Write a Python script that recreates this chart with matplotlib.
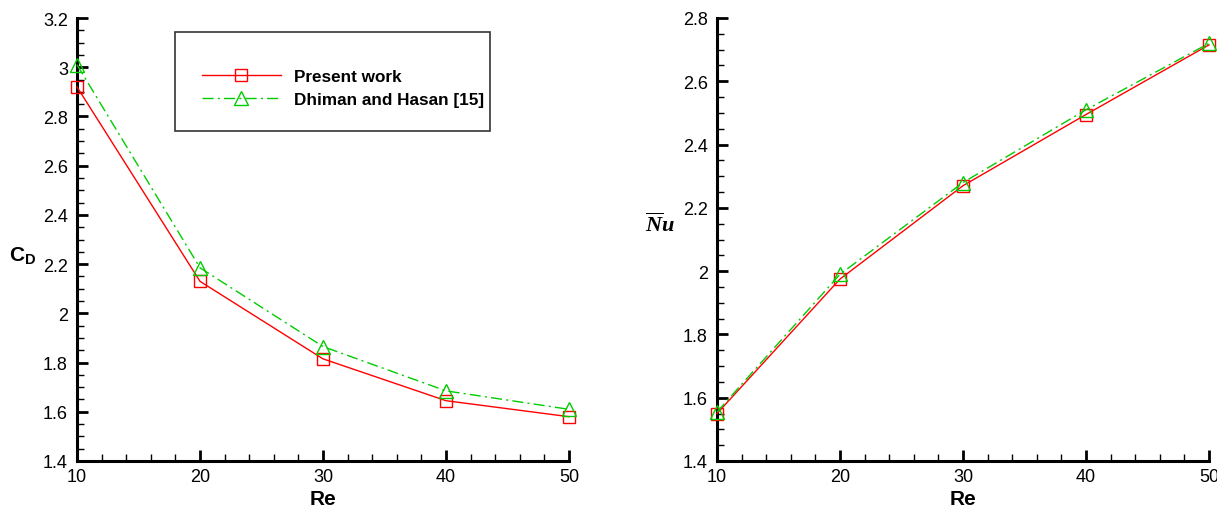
import matplotlib
matplotlib.use("Agg")
import matplotlib.pyplot as plt
from matplotlib.patches import Rectangle
from matplotlib.ticker import MultipleLocator, FuncFormatter
from matplotlib.lines import Line2D

plt.rcParams['font.family'] = ['Liberation Sans', 'DejaVu Sans']
plt.rcParams['mathtext.fontset'] = 'custom'
plt.rcParams['mathtext.bf'] = 'Liberation Sans:bold'
plt.rcParams['mathtext.rm'] = 'Liberation Sans'
plt.rcParams['mathtext.it'] = 'Liberation Serif:bold:italic'

re_values = [10, 20, 30, 40, 50]

cd_present = [2.92, 2.13, 1.815, 1.645, 1.58]
cd_dhiman = [3.01, 2.185, 1.865, 1.685, 1.61]

nu_present = [1.55, 1.975, 2.27, 2.495, 2.715]
nu_dhiman = [1.555, 1.99, 2.28, 2.51, 2.72]

label_present = "Present work"
label_dhiman = "Dhiman and Hasan [15]"

RED = '#ff0000'
GREEN = '#00cc00'
DASHDOT = (0, (8, 3, 1.5, 3))

W, H = 1217, 510
fig = plt.figure(figsize=(W / 100, H / 100), dpi=100)


def make_axes(px0, px1, py_top, py_bot):
    return fig.add_axes([px0 / W, 1 - py_bot / H, (px1 - px0) / W, (py_bot - py_top) / H])


def style_axes(ax, ylo, yhi):
    ax.set_xlim(10, 50)
    ax.set_ylim(ylo, yhi)
    for side in ('top', 'right'):
        ax.spines[side].set_visible(False)
    for side in ('left', 'bottom'):
        ax.spines[side].set_linewidth(2.2)
    ax.xaxis.set_major_locator(MultipleLocator(10))
    ax.xaxis.set_minor_locator(MultipleLocator(2))
    ax.yaxis.set_major_locator(MultipleLocator(0.2))
    ax.yaxis.set_minor_locator(MultipleLocator(0.05))
    ax.tick_params(which='major', direction='in', length=8, width=2, labelsize=13)
    ax.tick_params(which='minor', direction='in', length=5, width=1)
    ax.tick_params(axis='x', which='major', pad=5)
    ax.tick_params(axis='y', which='major', pad=6.5)
    fmt = FuncFormatter(lambda v, p: f"{v:g}")
    ax.xaxis.set_major_formatter(fmt)
    ax.yaxis.set_major_formatter(fmt)
    ax.set_xlabel("Re", fontsize=15, fontweight='bold', labelpad=3)


def draw_series(ax, present, dhiman):
    ax.plot(re_values, present, color=RED, lw=1.0, ls='-', marker='s',
            markersize=9, markerfacecolor='none', markeredgecolor=RED,
            markeredgewidth=1.0, clip_on=False, zorder=3)
    ax.plot(re_values, dhiman, color=GREEN, lw=1.0, ls=DASHDOT, marker='^',
            markersize=10, markerfacecolor='none', markeredgecolor=GREEN,
            markeredgewidth=1.0, clip_on=False, zorder=3)


# Drag coefficient panel
ax1 = make_axes(77, 569, 19, 462)
style_axes(ax1, 1.4, 3.2)
draw_series(ax1, cd_present, cd_dhiman)
ax1.set_ylabel(r"$\mathbf{C_D}$", fontsize=15, rotation=0, va='center')
ax1.yaxis.set_label_coords(-0.11, 0.465)

# Legend box with entries
ax1.add_patch(Rectangle((0.199, 0.745), 0.64, 0.223, transform=ax1.transAxes,
                        fill=False, edgecolor='#333333', lw=1.2, zorder=4))
handles = [
    Line2D([], [], color=RED, lw=1.0, ls='-', marker='s', markersize=9,
           markerfacecolor='none', markeredgecolor=RED),
    Line2D([], [], color=GREEN, lw=1.0, ls=DASHDOT, marker='^', markersize=10,
           markerfacecolor='none', markeredgecolor=GREEN),
]
leg = ax1.legend(handles, [label_present, label_dhiman], loc='center left',
                 bbox_to_anchor=(0.237, 0.842), frameon=False, handlelength=4.6,
                 handletextpad=0.75, labelspacing=0.45, borderpad=0,
                 prop={'family': 'Liberation Sans', 'weight': 'bold', 'size': 12.3})

# Nusselt number panel
ax2 = make_axes(717, 1209, 19, 462)
style_axes(ax2, 1.4, 2.8)
draw_series(ax2, nu_present, nu_dhiman)
ax2.set_ylabel(r"$\overline{N}u$", fontsize=16, rotation=0, va='center')
ax2.yaxis.set_label_coords(-0.115, 0.535)

fig.savefig("out.png", dpi=100)
